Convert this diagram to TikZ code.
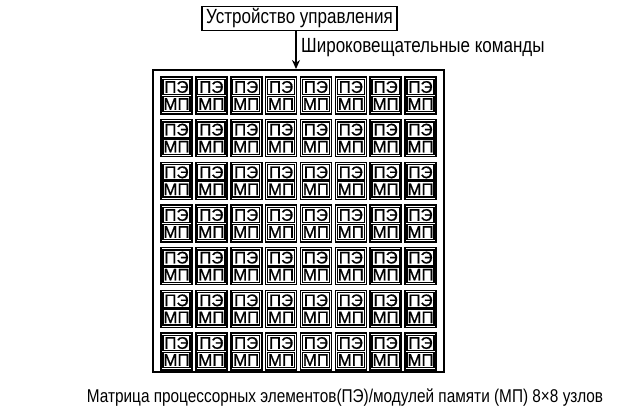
\documentclass[tikz,border=0pt]{standalone}
\usepackage{fontspec}
\setmainfont{Liberation Sans}
\newfontfamily\condfont[FakeStretch=0.83]{Liberation Sans}
\newfontfamily\cellfont[FakeBold=0.8]{Liberation Sans}
\usetikzlibrary{arrows.meta}
\tikzset{
  ctrlbox/.style={draw, line width=1.5pt, minimum width=195pt, minimum height=24pt, inner sep=0pt, font=\condfont\fontsize{20.5}{22}\selectfont},
  matrixbox/.style={draw, line width=2.5pt, minimum width=291pt, minimum height=302pt, inner sep=0pt},
  cellbox/.style={draw, line width=1.6pt, minimum width=31pt, minimum height=37pt, inner sep=0pt},
  subbox/.style={draw, line width=1.3pt, minimum width=27.2pt, minimum height=15.4pt, inner sep=0pt, font=\cellfont\fontsize{16.8}{16}\selectfont},
  lbl/.style={font=\condfont\fontsize{20.5}{22}\selectfont, inner sep=0pt},
  caplbl/.style={font=\condfont\fontsize{18.5}{20}\selectfont, inner sep=0pt},
  bcast/.style={line width=2pt, -{Stealth[length=9pt,width=8pt]}}
}
\begin{document}
\begin{tikzpicture}[x=1pt,y=-1pt]
\useasboundingbox (0,0) rectangle (624,416);
\node[ctrlbox] (ctrl) at (299.5,18.5) {Устройство управления};
\node[matrixbox] (mat) at (298.5,221) {};
\coordinate (arrtop) at (296,30.5);
\coordinate (arrbot) at (296,69);
\draw[bcast] (arrtop) -- (arrbot);
\node[lbl, anchor=west] (bc) at (301,48) {Широковещательные команды};
\foreach \i in {0,...,7}{
  \foreach \j in {0,...,6}{
    \pgfmathsetmacro{\cx}{161+\i*34.86+15.5}
    \pgfmathsetmacro{\cy}{77+\j*42.67+18.5}
    \node[cellbox] (c\i\j) at (\cx,\cy) {};
    \node[subbox] (pe\i\j) at (\cx,\cy-8.5) {ПЭ};
    \node[subbox] (mp\i\j) at (\cx,\cy+8.5) {МП};
  }
}
\node[caplbl] (cap) at (345,398) {Матрица процессорных элементов(ПЭ)/модулей памяти (МП) 8×8 узлов};
\end{tikzpicture}
\end{document}
